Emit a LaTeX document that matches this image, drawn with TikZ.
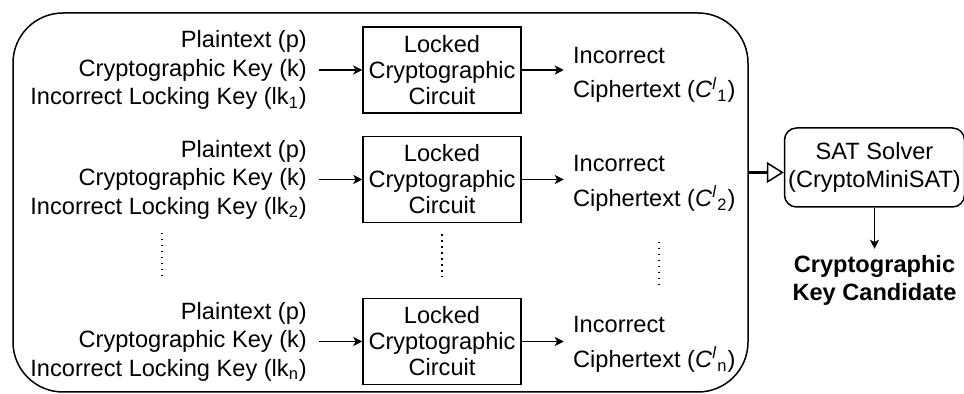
\documentclass[tikz,border=0pt]{standalone}
\usepackage{fontspec}
\setmainfont{Liberation Sans}
\usetikzlibrary{positioning, arrows.meta}
\tikzstyle{block} = [rectangle, draw=black, line width=0.75pt, minimum width=79pt, minimum height=43pt, align=center, inner sep=0pt, font=\fontsize{11.8}{13}\selectfont]
\tikzstyle{intext} = [align=right, inner sep=0pt, font=\fontsize{11.8}{14.25}\selectfont]
\tikzstyle{outtext} = [align=left, inner sep=0pt, font=\fontsize{11.8}{14.25}\selectfont]
\tikzstyle{solver} = [rectangle, rounded corners=6pt, draw=black, line width=0.75pt, minimum width=90pt, minimum height=39.5pt, align=center, inner sep=0pt, font=\fontsize{11.8}{14}\selectfont]
\tikzstyle{result} = [align=center, inner sep=0pt, font=\fontsize{11.8}{14}\selectfont\bfseries]
\tikzstyle{arrow} = [line width=0.75pt, -{Stealth[length=4.5pt, width=4.5pt, inset=1.2pt]}]
\tikzstyle{feed} = [line width=1.5pt, -{Triangle[open, length=8.5pt, width=10.5pt, line width=0.75pt]}]
\tikzstyle{vdots} = [line width=0.75pt, dash pattern=on 0.75pt off 2.25pt]

\begin{document}
\begin{tikzpicture}[x=0.5pt, y=-0.5pt]
\useasboundingbox (0,0) rectangle (964,394);
\node (grp) [rectangle, draw=black, line width=0.75pt, rounded corners=25pt, minimum width=367.5pt, minimum height=189.5pt] at (380.5,202.5) {};

\node (lcc1) [block] at (442,70) {Locked\\Cryptographic\\Circuit};
\node (lcc2) [block] at (442,179.5) {Locked\\Cryptographic\\Circuit};
\node (lcc3) [block] at (442,341.5) {Locked\\Cryptographic\\Circuit};

\node (in1) [intext, left=27.5pt of lcc1] {Plaintext (p)\\Cryptographic Key (k)\\Incorrect Locking Key (lk\textsubscript{1})};
\node (in2) [intext, left=27.5pt of lcc2] {Plaintext (p)\\Cryptographic Key (k)\\Incorrect Locking Key (lk\textsubscript{2})};
\node (in3) [intext, left=27.5pt of lcc3] {Plaintext (p)\\Cryptographic Key (k)\\Incorrect Locking Key (lk\textsubscript{n})};

\node (out1) [outtext, right=25.5pt of lcc1, yshift=-2.5pt] {Incorrect\\[3pt]Ciphertext (\textit{C}\textsuperscript{\textit{l}}\textsubscript{1})};
\node (out2) [outtext, right=25.5pt of lcc2, yshift=-2pt] {Incorrect\\[3pt]Ciphertext (\textit{C}\textsuperscript{\textit{l}}\textsubscript{2})};
\node (out3) [outtext, right=25.5pt of lcc3, yshift=-1.5pt] {Incorrect\\[3pt]Ciphertext (\textit{C}\textsuperscript{\textit{l}}\textsubscript{n})};

\draw [arrow] ([xshift=6pt]in1.east) -- (lcc1);
\draw [arrow] ([xshift=6pt]in2.east) -- (lcc2);
\draw [arrow] ([xshift=6pt]in3.east) -- (lcc3);
\draw [arrow] (lcc1) -- ([xshift=-4.5pt]out1.west |- lcc1);
\draw [arrow] (lcc2) -- ([xshift=-4.5pt]out2.west |- lcc2);
\draw [arrow] (lcc3) -- ([xshift=-4.5pt]out3.west |- lcc3);

% dots between the second and the last row
\draw [vdots] (162,233) -- (162,277);
\draw [vdots] ([yshift=-5.5pt]lcc2.south) -- ([yshift=10.5pt]lcc3.north);
\draw [vdots] (659,242) -- (659,285);

\node (sat) [solver, right=17.5pt of grp, yshift=17.5pt] {SAT Solver\\(CryptoMiniSAT)};
\node (res) [result, below=23.5pt of sat] {Cryptographic\\Key Candidate};

\draw [feed] ([yshift=-2.5pt]sat.west -| grp.east) -- ([yshift=-2.5pt]sat.west);
\draw [arrow] (sat) -- ([yshift=3pt]res.north);
\end{tikzpicture}
\end{document}
